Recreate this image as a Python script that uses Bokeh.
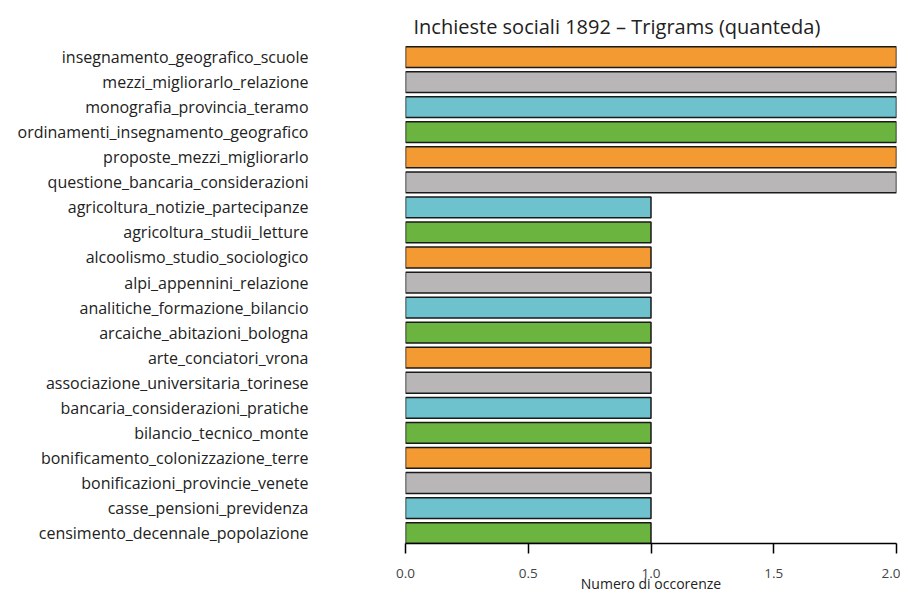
from bokeh.plotting import figure
from bokeh.models import ColumnDataSource, Range1d, FixedTicker
from bokeh.embed import file_html
from bokeh.resources import INLINE

trigrams = [
    "insegnamento_geografico_scuole",
    "mezzi_migliorarlo_relazione",
    "monografia_provincia_teramo",
    "ordinamenti_insegnamento_geografico",
    "proposte_mezzi_migliorarlo",
    "questione_bancaria_considerazioni",
    "agricoltura_notizie_partecipanze",
    "agricoltura_studii_letture",
    "alcoolismo_studio_sociologico",
    "alpi_appennini_relazione",
    "analitiche_formazione_bilancio",
    "arcaiche_abitazioni_bologna",
    "arte_conciatori_vrona",
    "associazione_universitaria_torinese",
    "bancaria_considerazioni_pratiche",
    "bilancio_tecnico_monte",
    "bonificamento_colonizzazione_terre",
    "bonificazioni_provincie_venete",
    "casse_pensioni_previdenza",
    "censimento_decennale_popolazione",
]
counts = [2, 2, 2, 2, 2, 2, 1, 1, 1, 1, 1, 1, 1, 1, 1, 1, 1, 1, 1, 1]
palette = ["#F39A33", "#B9B6B7", "#6DC2CE", "#6AB43F"]
x_ticks = [0.0, 0.5, 1.0, 1.5, 2.0]

n = len(trigrams)
ypos = [n - 1 - i for i in range(n)]  # first trigram on top
colors = [palette[i % len(palette)] for i in range(n)]
src = ColumnDataSource(dict(y=ypos, name=trigrams, count=counts, color=colors))

FONT = "Open Sans"
BAR_H = 0.83

p = figure(
    width=900, height=595,
    y_range=Range1d(-BAR_H / 2, n - 0.5),
    x_range=Range1d(0, 2),
    output_backend="svg", toolbar_location=None,
    min_border_left=405, min_border_right=4, min_border_top=44, min_border_bottom=51,
    title="Inchieste sociali 1892 \u2013 Trigrams (quanteda)",
)
p.hbar(y="y", right="count", left=0, height=BAR_H, source=src,
       fill_color="color", line_color="#1a1a1a", line_width=1.5)

p.title.text_font = FONT
p.title.text_font_size = "20px"
p.title.text_font_style = "normal"
p.title.text_color = "#222222"
p.title.align = "left"
p.title.offset = 8

p.outline_line_color = None
p.xgrid.grid_line_color = None
p.ygrid.grid_line_color = None
p.background_fill_color = "white"
p.border_fill_color = "white"

xa = p.xaxis[0]
xa.ticker = FixedTicker(ticks=x_ticks)
xa.major_label_overrides = {t: f"{t:.1f}" for t in x_ticks}
xa.major_label_text_font = FONT
xa.major_label_text_font_size = "13.5px"
xa.major_label_standoff = 15
xa.major_tick_out = 10
xa.major_tick_in = 0
xa.minor_tick_line_color = None
xa.axis_line_width = 1.5
xa.major_tick_line_width = 1.5
xa.axis_label = "Numero di occorenze"
xa.axis_label_text_font = FONT
xa.axis_label_text_font_style = "normal"
xa.axis_label_text_font_size = "14px"
xa.axis_label_text_color = "#222222"
xa.axis_label_standoff = -7

ya = p.yaxis[0]
ya.ticker = FixedTicker(ticks=ypos)
ya.major_label_overrides = {y: nm for y, nm in zip(ypos, trigrams)}
ya.axis_line_color = None
ya.major_tick_line_color = None
ya.minor_tick_line_color = None
ya.major_tick_out = 0
ya.major_tick_in = 0
ya.major_label_standoff = 97
ya.major_label_text_font = FONT
ya.major_label_text_font_size = "16px"
ya.major_label_text_color = "#222222"

open("out.html", "w").write(file_html(p, INLINE))
